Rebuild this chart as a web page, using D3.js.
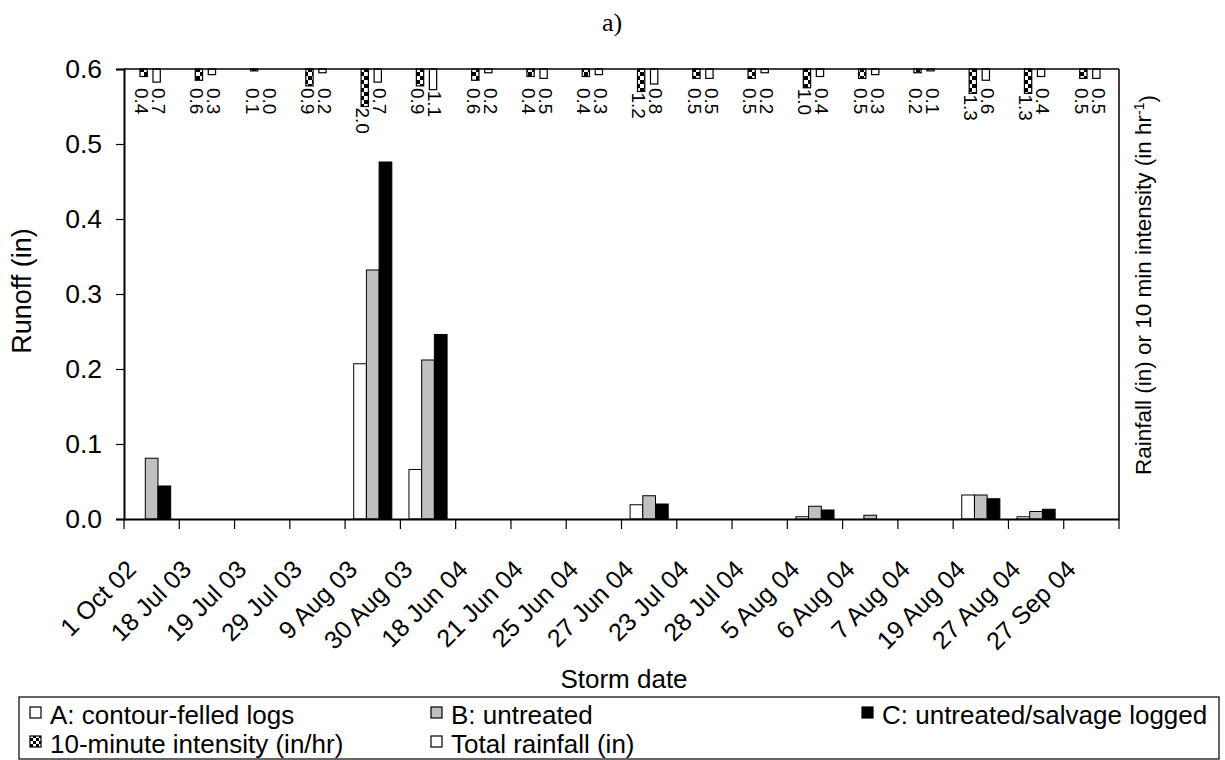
<!DOCTYPE html>
<html>
<head>
<meta charset="utf-8">
<script src="https://cdn.jsdelivr.net/npm/d3@7"></script>
<style>
  html, body { margin: 0; padding: 0; background: #fff; }
  svg { display: block; }
  text { font-family: "Liberation Sans", Arial, sans-serif; fill: #000; }
</style>
</head>
<body>
<svg id="chart" width="1225" height="760"></svg>
<script>
const categories = ["1 Oct 02","18 Jul 03","19 Jul 03","29 Jul 03","9 Aug 03","30 Aug 03",
  "18 Jun 04","21 Jun 04","25 Jun 04","27 Jun 04","23 Jul 04","28 Jul 04",
  "5 Aug 04","6 Aug 04","7 Aug 04","19 Aug 04","27 Aug 04","27 Sep 04"];
const runoffA = [0,0,0,0,0.207,0.066,0,0,0,0.019,0,0,0.003,0,0,0.032,0.003,0];
const runoffB = [0.081,0,0,0,0.332,0.212,0,0,0,0.031,0,0,0.017,0.005,0,0.032,0.010,0];
const runoffC = [0.044,0,0,0,0.476,0.246,0,0,0,0.020,0,0,0.012,0,0,0.027,0.013,0];
const intensity = [0.4,0.6,0.1,0.9,2.0,0.9,0.6,0.4,0.4,1.2,0.5,0.5,1.0,0.5,0.2,1.3,1.3,0.5];
const rainfall  = [0.7,0.3,0.0,0.2,0.7,1.1,0.2,0.5,0.3,0.8,0.5,0.2,0.4,0.3,0.1,0.6,0.4,0.5];
const yTicks = [0,0.1,0.2,0.3,0.4,0.5,0.6];
const runoffSeries = [
  {name:"A: contour-felled logs", values: runoffA, fill:"#ffffff"},
  {name:"B: untreated", values: runoffB, fill:"#c0c0c0"},
  {name:"C: untreated/salvage logged", values: runoffC, fill:"#000000"}
];

const L = 124, R = 1119, T = 69, B = 519;
const svg = d3.select("#chart");

const defs = svg.append("defs");
const pat = defs.append("pattern").attr("id","checker").attr("patternUnits","userSpaceOnUse")
  .attr("width",8).attr("height",8);
pat.append("rect").attr("width",8).attr("height",8).attr("fill","#fff");
pat.append("rect").attr("width",4).attr("height",4).attr("fill","#000");
pat.append("rect").attr("x",4).attr("y",4).attr("width",4).attr("height",4).attr("fill","#000");
const pat2 = defs.append("pattern").attr("id","checkerS").attr("patternUnits","userSpaceOnUse")
  .attr("width",6).attr("height",6);
pat2.append("rect").attr("width",6).attr("height",6).attr("fill","#fff");
pat2.append("rect").attr("width",3).attr("height",3).attr("fill","#000");
pat2.append("rect").attr("x",3).attr("y",3).attr("width",3).attr("height",3).attr("fill","#000");

const x = d3.scaleBand().domain(categories).range([L, R]).padding(0);
const y = d3.scaleLinear().domain([0, 0.6]).range([B, T]);
const rainY = d3.scaleLinear().domain([0, 24]).range([T, B]);
const cw = x.bandwidth();
const bw = cw / 4.35;
const sub = d3.scaleBand().domain([0,1,2]).range([-1.5*bw, 1.5*bw]);

// title
svg.append("text").attr("x", 612).attr("y", 31).attr("text-anchor","middle")
  .style("font-family","'Liberation Serif','Times New Roman',serif").style("font-size","26px").text("a)");

// runoff bars
runoffSeries.forEach((s, si) => {
  svg.append("g").selectAll("rect").data(categories.map((c,i)=>({c, v:s.values[i]})).filter(d=>d.v>0))
    .join("rect")
    .attr("x", d => x(d.c) + cw/2 + sub(si))
    .attr("width", sub.bandwidth())
    .attr("y", d => y(d.v))
    .attr("height", d => y(0) - y(d.v))
    .attr("fill", s.fill).attr("stroke","#000").attr("stroke-width",1);
});

// hanging rainfall bars
const hw = 7.3;
const rainSeries = [
  {values: intensity, off: -8, loff: -10, fill: "url(#checker)"},
  {values: rainfall, off: 5, loff: 7, fill: "#fff"}
];
rainSeries.forEach(s => {
  const g = svg.append("g");
  const data = categories.map((c,i)=>({c, v:s.values[i]}));
  g.selectAll("rect").data(data.filter(d=>d.v>0)).join("rect")
    .attr("x", d => x(d.c) + cw/2 + s.off - hw/2)
    .attr("y", T)
    .attr("width", hw)
    .attr("height", d => rainY(d.v) - T)
    .attr("fill", s.fill).attr("stroke","#000").attr("stroke-width",1.2);
  g.selectAll("text").data(data).join("text")
    .attr("transform", d => `translate(${x(d.c) + cw/2 + s.loff},${Math.max(rainY(d.v) + 1, T + 19)}) rotate(90)`)
    .attr("dy","0.35em")
    .style("font-size","19px")
    .text(d => d.v.toFixed(1));
});

// axes
const yAxis = d3.axisLeft(y).tickValues(yTicks).tickFormat(d3.format(".1f")).tickSize(8).tickPadding(14);
const gy = svg.append("g").attr("transform",`translate(${L},0)`).call(yAxis);
gy.selectAll("text").style("font-size","26.5px").style("font-family","'Liberation Sans',Arial,sans-serif");
gy.select(".domain").attr("stroke-width",2);
gy.selectAll(".tick line").attr("stroke-width",1.2);

const xAxis = d3.axisBottom(x).tickSize(0).tickFormat("");
const gx = svg.append("g").attr("transform",`translate(0,${B})`).call(xAxis);
gx.select(".domain").attr("stroke-width",2);
const boundaries = categories.map(c => x(c)).concat([R]);
gx.selectAll(".bt").data(boundaries).join("line").attr("class","bt")
  .attr("x1", d=>d).attr("x2", d=>d).attr("y1",0).attr("y2",10).attr("stroke","#000").attr("stroke-width",1.2);
gx.selectAll(".cl").data(categories).join("text").attr("class","cl")
  .attr("transform", d => `translate(${x(d) + cw/2 - 14},${52}) rotate(-45)`)
  .attr("text-anchor","end")
  .style("font-size","25px")
  .text(d => d);

// frame top & right
svg.append("line").attr("x1",L).attr("x2",R).attr("y1",T).attr("y2",T).attr("stroke","#000").attr("stroke-width",1.5);
svg.append("line").attr("x1",R).attr("x2",R).attr("y1",T).attr("y2",B).attr("stroke","#000").attr("stroke-width",1.5);

// axis titles
svg.append("text").attr("transform",`translate(31,${(T+B)/2 - 3}) rotate(-90)`).attr("text-anchor","middle")
  .style("font-size","27px").text("Runoff (in)");
const rt = svg.append("text").attr("transform",`translate(1151,${(T+B)/2 - 9}) rotate(-90)`).attr("text-anchor","middle")
  .style("font-size","22.5px");
rt.append("tspan").text("Rainfall (in) or 10 min intensity (in hr");
rt.append("tspan").attr("dy","-0.5em").style("font-size","14px").text("-1");
rt.append("tspan").attr("dy","0.5em").text(")");
svg.append("text").attr("x",624).attr("y",688).attr("text-anchor","middle")
  .style("font-size","26px").text("Storm date");

// legend
const lg = svg.append("g");
lg.append("rect").attr("x",19).attr("y",697).attr("width",1200).attr("height",62)
  .attr("fill","#fff").attr("stroke","#000").attr("stroke-width",1.2);
const legendItems = [
  {label: runoffSeries[0].name, fill: runoffSeries[0].fill, lx: 30, ly: 724},
  {label: runoffSeries[1].name, fill: runoffSeries[1].fill, lx: 431, ly: 724},
  {label: runoffSeries[2].name, fill: runoffSeries[2].fill, lx: 862, ly: 724},
  {label: "10-minute intensity (in/hr)", fill: "url(#checkerS)", lx: 30, ly: 753},
  {label: "Total rainfall (in)", fill: "#fff", lx: 431, ly: 753}
];
legendItems.forEach(it => {
  lg.append("rect").attr("x", it.lx).attr("y", it.ly - 17).attr("width",11).attr("height",11)
    .attr("fill", it.fill).attr("stroke","#000").attr("stroke-width",1.2);
  lg.append("text").attr("x", it.lx + 20).attr("y", it.ly).style("font-size","26px").text(it.label);
});
</script>
</body>
</html>
